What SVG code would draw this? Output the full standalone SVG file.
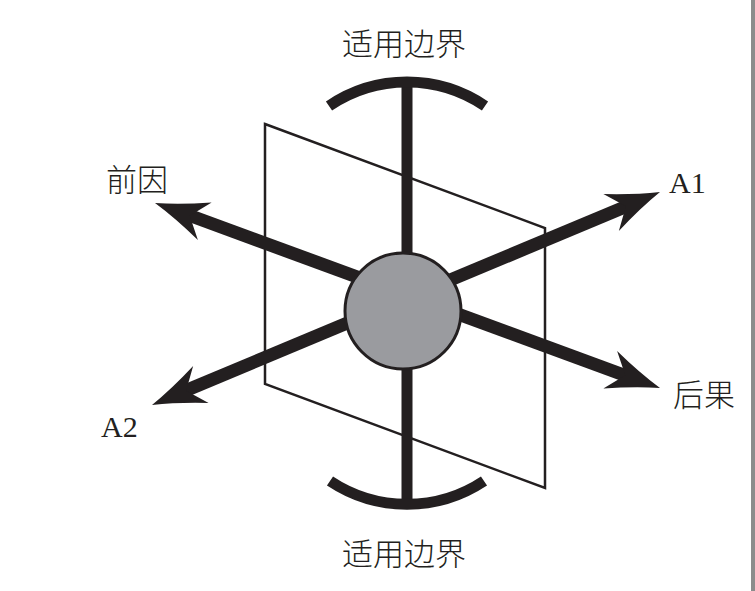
<svg xmlns="http://www.w3.org/2000/svg" xmlns:xlink="http://www.w3.org/1999/xlink" width="755" height="591" viewBox="0 0 755 591">
  <style>
    .lbl { font-family: "Noto Sans CJK SC", "Liberation Serif", serif; font-size: 31px; fill: #231f20; font-weight: 300; }
    .lat { font-family: "Liberation Serif", serif; font-size: 30px; fill: #231f20; }
    .shaft { stroke: #231f20; stroke-width: 13; fill: none; }
    .bar { stroke: #231f20; stroke-width: 11; fill: none; }
    .plane { stroke: #231f20; stroke-width: 2.5; fill: none; stroke-linejoin: miter; }
    .head { fill: #231f20; }
  </style>
  <defs>
    <path id="ah" class="head" d="M0,0 Q-24,-7 -53,-20 L-37,0 L-53,20 Q-24,7 0,0 Z"/>
  </defs>
  <rect width="755" height="591" fill="#ffffff"/>
  <rect x="751" y="0" width="4" height="591" fill="#8c8c8c"/>

  <g id="plane">
    <polygon class="plane" points="265,124 545,228 545,488 265,384"/>
  </g>

  <g id="connectors">
    <line class="bar" x1="407" y1="82" x2="407" y2="505"/>
    <path class="bar" d="M329,106 A139,139 0 0 1 485,106"/>
    <path class="bar" d="M330,481 A139,139 0 0 0 484,481"/>
    <line class="shaft" x1="183" y1="213" x2="632" y2="378"/>
    <line class="shaft" x1="180" y1="393" x2="632" y2="204"/>
    <use xlink:href="#ah" transform="translate(155,203) rotate(-159.88)"/>
    <use xlink:href="#ah" transform="translate(660,388) rotate(20.12)"/>
    <use xlink:href="#ah" transform="translate(660,192) rotate(-22.75)"/>
    <use xlink:href="#ah" transform="translate(152,405) rotate(157.25)"/>
  </g>

  <g id="core">
    <circle cx="403" cy="311" r="58" fill="#9a9b9f" stroke="#231f20" stroke-width="3"/>
  </g>

  <g id="top-boundary">
    <text class="lbl" x="404" y="55" text-anchor="middle">适用边界</text>
  </g>
  <g id="bottom-boundary">
    <text class="lbl" x="404" y="565" text-anchor="middle">适用边界</text>
  </g>
  <g id="antecedent">
    <text class="lbl" x="106" y="191">前因</text>
  </g>
  <g id="consequence">
    <text class="lbl" x="673" y="406">后果</text>
  </g>
  <g id="a1">
    <text class="lat" x="669" y="193">A1</text>
  </g>
  <g id="a2">
    <text class="lat" x="101" y="437">A2</text>
  </g>
</svg>
